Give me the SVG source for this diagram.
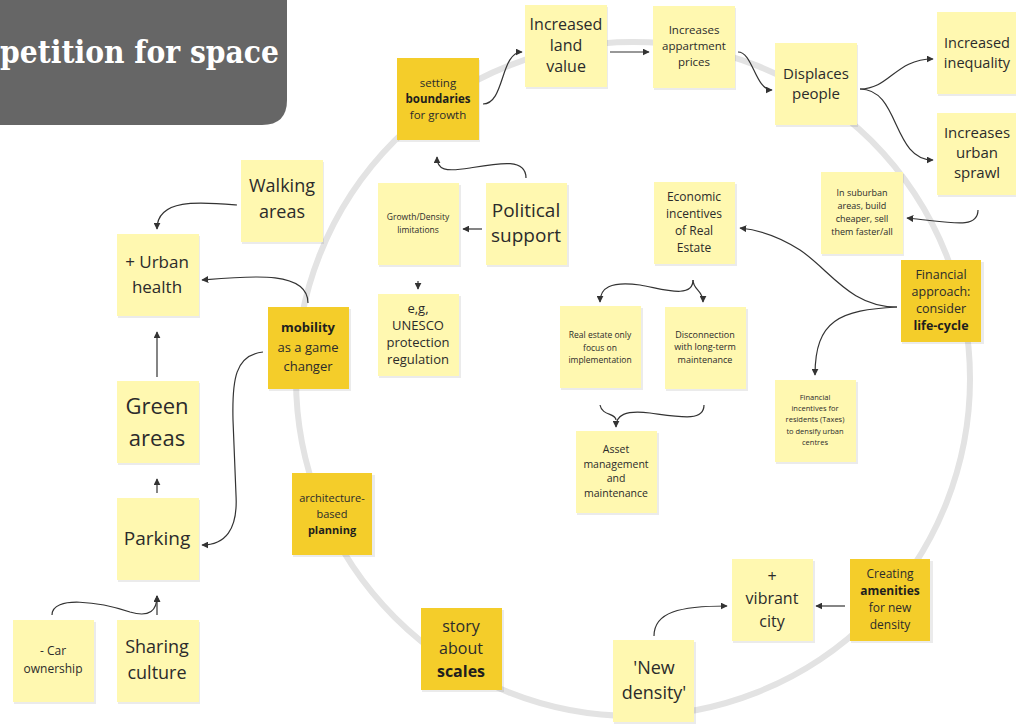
<svg xmlns="http://www.w3.org/2000/svg" width="1016" height="725" viewBox="0 0 1016 725">
<defs>
<style>
.lt{fill:#FFF8B0}
.gd{fill:#F4CD2A}
.sh{fill:#000;opacity:0.08}
text{font-family:"Open Sans","Liberation Sans",sans-serif;fill:#2b2b2b;text-anchor:middle;dominant-baseline:central}
.b{font-weight:bold;fill:#1e1e1e}
.c{fill:none;stroke:#333;stroke-width:1.2}
</style>
<marker id="ah" viewBox="0 0 10 10" refX="9" refY="5" markerWidth="7" markerHeight="7" orient="auto-start-reverse" markerUnits="userSpaceOnUse">
<path d="M0,0 L10,5 L0,10 z" fill="#333"/>
</marker>
</defs>
<rect width="1016" height="725" fill="#fff"/>
<circle cx="633" cy="379" r="337" fill="none" stroke="#e3e3e3" stroke-width="6"/>

<g id="title">
<path d="M0,-10 H287 V100 Q287,125 262,125 H0 Z" fill="#666666"/>
<text x="279" y="52" style="font-family:'DejaVu Serif','Liberation Serif',serif;font-weight:bold;font-size:31px;fill:#fff;text-anchor:end" textLength="279" lengthAdjust="spacingAndGlyphs">petition for space</text>
</g>

<g id="connectors" class="conn">
<path class="c" marker-end="url(#ah)" d="M483,104 C505,104 500,52 522,52"/>
<path class="c" marker-end="url(#ah)" d="M610,52 L649,52"/>
<path class="c" marker-end="url(#ah)" d="M738,52 C753,52 755,90 772,90"/>
<path class="c" marker-end="url(#ah)" d="M860,89 C890,89 895,59 933,59"/>
<path class="c" marker-end="url(#ah)" d="M860,89 C900,89 892,160 933,160"/>
<path class="c" marker-end="url(#ah)" d="M978,210 C978,230 950,222 907,218"/>
<path class="c" marker-end="url(#ah)" d="M526,178 C526,158 500,163 470,168 C445,172 437,170 437,157"/>
<path class="c" marker-end="url(#ah)" d="M482,229 L463,229"/>
<path class="c" marker-end="url(#ah)" d="M418,281 L418,289"/>
<path class="c" marker-end="url(#ah)" d="M237,205 C200,202 157,198 157,229"/>
<path class="c" marker-end="url(#ah)" d="M308,303 C308,270 250,276 202,280"/>
<path class="c" marker-end="url(#ah)" d="M157,377 L157,332"/>
<path class="c" marker-end="url(#ah)" d="M157,493 L157,479"/>
<path class="c" marker-end="url(#ah)" d="M263,352 C235,355 232,380 233,420 L236,495 C238,530 225,545 202,545"/>
<path class="c" marker-end="url(#ah)" d="M52,615 C52,595 100,602 130,612 C150,618 157,610 157,596"/>
<path class="c" marker-end="url(#ah)" d="M157,615 L157,596"/>
<path class="c" marker-end="url(#ah)" d="M693,280 C693,300 660,288 640,285 C610,281 600,288 600,302"/>
<path class="c" marker-end="url(#ah)" d="M693,280 C693,290 703,290 703,302"/>
<path class="c" d="M600,405 C602,416 616,413 616,420"/>
<path class="c" marker-end="url(#ah)" d="M704,405 C704,422 680,417 650,413 C625,410 616,415 616,427"/>
<path class="c" marker-end="url(#ah)" d="M897,307 C850,307 830,270 800,250 C780,237 760,230 740,228"/>
<path class="c" marker-end="url(#ah)" d="M897,307 C840,310 815,320 815,375"/>
<path class="c" marker-end="url(#ah)" d="M654,636 C654,612 680,606 727,606"/>
<path class="c" marker-end="url(#ah)" d="M845,606 L816,606"/>
</g>

<g id="n-boundaries"><rect class="sh" x="398" y="60" width="82" height="82"/><rect class="gd" x="397" y="58" width="82" height="82"/>
<text style="font-size:11.5px"><tspan x="438" y="82">setting</tspan><tspan x="438" y="98" class="b">boundaries</tspan><tspan x="438" y="114">for growth</tspan></text></g>

<g id="n-landvalue"><rect class="sh" x="526" y="7" width="82" height="82"/><rect class="lt" x="525" y="5" width="82" height="82"/>
<text style="font-size:16px"><tspan x="566" y="24">Increased</tspan><tspan x="566" y="45">land</tspan><tspan x="566" y="66">value</tspan></text></g>

<g id="n-prices"><rect class="sh" x="654" y="8" width="82" height="82"/><rect class="lt" x="653" y="6" width="82" height="82"/>
<text style="font-size:11.5px"><tspan x="694" y="29">Increases</tspan><tspan x="694" y="45">appartment</tspan><tspan x="694" y="61">prices</tspan></text></g>

<g id="n-displaces"><rect class="sh" x="776" y="45" width="82" height="82"/><rect class="lt" x="775" y="43" width="82" height="82"/>
<text style="font-size:15px"><tspan x="816" y="73">Displaces</tspan><tspan x="816" y="93">people</tspan></text></g>

<g id="n-inequality"><rect class="sh" x="938" y="14" width="82" height="82"/><rect class="lt" x="937" y="12" width="82" height="82"/>
<text style="font-size:14.5px"><tspan x="977" y="42">Increased</tspan><tspan x="977" y="62">inequality</tspan></text></g>

<g id="n-sprawl"><rect class="sh" x="938" y="115" width="82" height="82"/><rect class="lt" x="937" y="113" width="82" height="82"/>
<text style="font-size:15px"><tspan x="977" y="132">Increases</tspan><tspan x="977" y="152">urban</tspan><tspan x="977" y="172">sprawl</tspan></text></g>

<g id="n-suburban"><rect class="sh" x="822" y="174" width="82" height="82"/><rect class="lt" x="821" y="172" width="82" height="82"/>
<text style="font-size:9px"><tspan x="862" y="192">In suburban</tspan><tspan x="862" y="205">areas, build</tspan><tspan x="862" y="218">cheaper, sell</tspan><tspan x="862" y="231">them faster/all</tspan></text></g>

<g id="n-walking"><rect class="sh" x="242" y="162" width="82" height="82"/><rect class="lt" x="241" y="160" width="82" height="82"/>
<text style="font-size:18px"><tspan x="282" y="185">Walking</tspan><tspan x="282" y="211">areas</tspan></text></g>

<g id="n-health"><rect class="sh" x="118" y="236" width="82" height="82"/><rect class="lt" x="117" y="234" width="82" height="82"/>
<text style="font-size:17px"><tspan x="157" y="261">+ Urban</tspan><tspan x="157" y="286">health</tspan></text></g>

<g id="n-mobility"><rect class="sh" x="269" y="309" width="82" height="82"/><rect class="gd" x="268" y="307" width="81" height="82"/>
<text style="font-size:13px"><tspan x="308" y="327" class="b">mobility</tspan><tspan x="308" y="347">as a game</tspan><tspan x="308" y="366">changer</tspan></text></g>

<g id="n-green"><rect class="sh" x="118" y="383" width="82" height="82"/><rect class="lt" x="117" y="381" width="82" height="82"/>
<text style="font-size:22px"><tspan x="157" y="405">Green</tspan><tspan x="157" y="437">areas</tspan></text></g>

<g id="n-parking"><rect class="sh" x="118" y="500" width="82" height="82"/><rect class="lt" x="117" y="498" width="82" height="82"/>
<text x="157" y="538" style="font-size:19px">Parking</text></g>

<g id="n-car"><rect class="sh" x="14" y="622" width="82" height="82"/><rect class="lt" x="13" y="620" width="81" height="82"/>
<text style="font-size:12px"><tspan x="53" y="650">- Car</tspan><tspan x="53" y="668">ownership</tspan></text></g>

<g id="n-sharing"><rect class="sh" x="118" y="622" width="82" height="82"/><rect class="lt" x="117" y="620" width="82" height="82"/>
<text style="font-size:18px"><tspan x="157" y="646">Sharing</tspan><tspan x="157" y="672">culture</tspan></text></g>

<g id="n-architecture"><rect class="sh" x="293" y="475" width="82" height="82"/><rect class="gd" x="292" y="473" width="80" height="82"/>
<text style="font-size:11px"><tspan x="332" y="497">architecture-</tspan><tspan x="332" y="513">based</tspan><tspan x="332" y="529" class="b">planning</tspan></text></g>

<g id="n-limitations"><rect class="sh" x="379" y="185" width="82" height="82"/><rect class="lt" x="378" y="183" width="81" height="82"/>
<text style="font-size:8.5px"><tspan x="418" y="216">Growth/Density</tspan><tspan x="418" y="229">limitations</tspan></text></g>

<g id="n-political"><rect class="sh" x="487" y="185" width="82" height="82"/><rect class="lt" x="486" y="183" width="81" height="82"/>
<text style="font-size:19px"><tspan x="526" y="210">Political</tspan><tspan x="526" y="235">support</tspan></text></g>

<g id="n-unesco"><rect class="sh" x="379" y="296" width="82" height="82"/><rect class="lt" x="378" y="294" width="81" height="82"/>
<text style="font-size:13px"><tspan x="418" y="308">e,g,</tspan><tspan x="418" y="325">UNESCO</tspan><tspan x="418" y="342">protection</tspan><tspan x="418" y="359">regulation</tspan></text></g>

<g id="n-economic"><rect class="sh" x="655" y="184" width="82" height="82"/><rect class="lt" x="654" y="182" width="81" height="82"/>
<text style="font-size:12px"><tspan x="694" y="196">Economic</tspan><tspan x="694" y="213">incentives</tspan><tspan x="694" y="230">of Real</tspan><tspan x="694" y="247">Estate</tspan></text></g>

<g id="n-realestate"><rect class="sh" x="561" y="308" width="82" height="82"/><rect class="lt" x="560" y="306" width="81" height="82"/>
<text style="font-size:8.5px"><tspan x="600" y="334">Real estate only</tspan><tspan x="600" y="347">focus on</tspan><tspan x="600" y="359">implementation</tspan></text></g>

<g id="n-disconnection"><rect class="sh" x="666" y="309" width="82" height="82"/><rect class="lt" x="665" y="307" width="81" height="82"/>
<text style="font-size:9px"><tspan x="705" y="334">Disconnection</tspan><tspan x="705" y="346">with long-term</tspan><tspan x="705" y="359">maintenance</tspan></text></g>

<g id="n-asset"><rect class="sh" x="577" y="433" width="82" height="82"/><rect class="lt" x="576" y="431" width="81" height="82"/>
<text style="font-size:10.5px"><tspan x="616" y="449">Asset</tspan><tspan x="616" y="464">management</tspan><tspan x="616" y="478">and</tspan><tspan x="616" y="493">maintenance</tspan></text></g>

<g id="n-financial"><rect class="sh" x="902" y="262" width="82" height="82"/><rect class="gd" x="901" y="260" width="80" height="82"/>
<text style="font-size:12.5px"><tspan x="941" y="274">Financial</tspan><tspan x="941" y="291">approach:</tspan><tspan x="941" y="308">consider</tspan><tspan x="941" y="325" class="b">life-cycle</tspan></text></g>

<g id="n-taxes"><rect class="sh" x="776" y="382" width="82" height="82"/><rect class="lt" x="775" y="380" width="81" height="82"/>
<text style="font-size:7.5px"><tspan x="815" y="397">Financial</tspan><tspan x="815" y="408">incentives for</tspan><tspan x="815" y="419">residents (Taxes)</tspan><tspan x="815" y="431">to densify urban</tspan><tspan x="815" y="442">centres</tspan></text></g>

<g id="n-scales"><rect class="sh" x="422" y="610" width="82" height="82"/><rect class="gd" x="421" y="608" width="81" height="82"/>
<text style="font-size:16px"><tspan x="461" y="626">story</tspan><tspan x="461" y="648">about</tspan><tspan x="461" y="671" class="b">scales</tspan></text></g>

<g id="n-newdensity"><rect class="sh" x="614" y="642" width="82" height="82"/><rect class="lt" x="613" y="640" width="81" height="82"/>
<text style="font-size:18px"><tspan x="654" y="667">'New</tspan><tspan x="654" y="692">density'</tspan></text></g>

<g id="n-vibrant"><rect class="sh" x="733" y="561" width="82" height="82"/><rect class="lt" x="732" y="559" width="81" height="82"/>
<text style="font-size:16px"><tspan x="772" y="576">+</tspan><tspan x="772" y="598">vibrant</tspan><tspan x="772" y="621">city</tspan></text></g>

<g id="n-amenities"><rect class="sh" x="851" y="561" width="82" height="82"/><rect class="gd" x="850" y="559" width="80" height="82"/>
<text style="font-size:12px"><tspan x="890" y="573">Creating</tspan><tspan x="890" y="590" class="b">amenities</tspan><tspan x="890" y="607">for new</tspan><tspan x="890" y="624">density</tspan></text></g>
</svg>
